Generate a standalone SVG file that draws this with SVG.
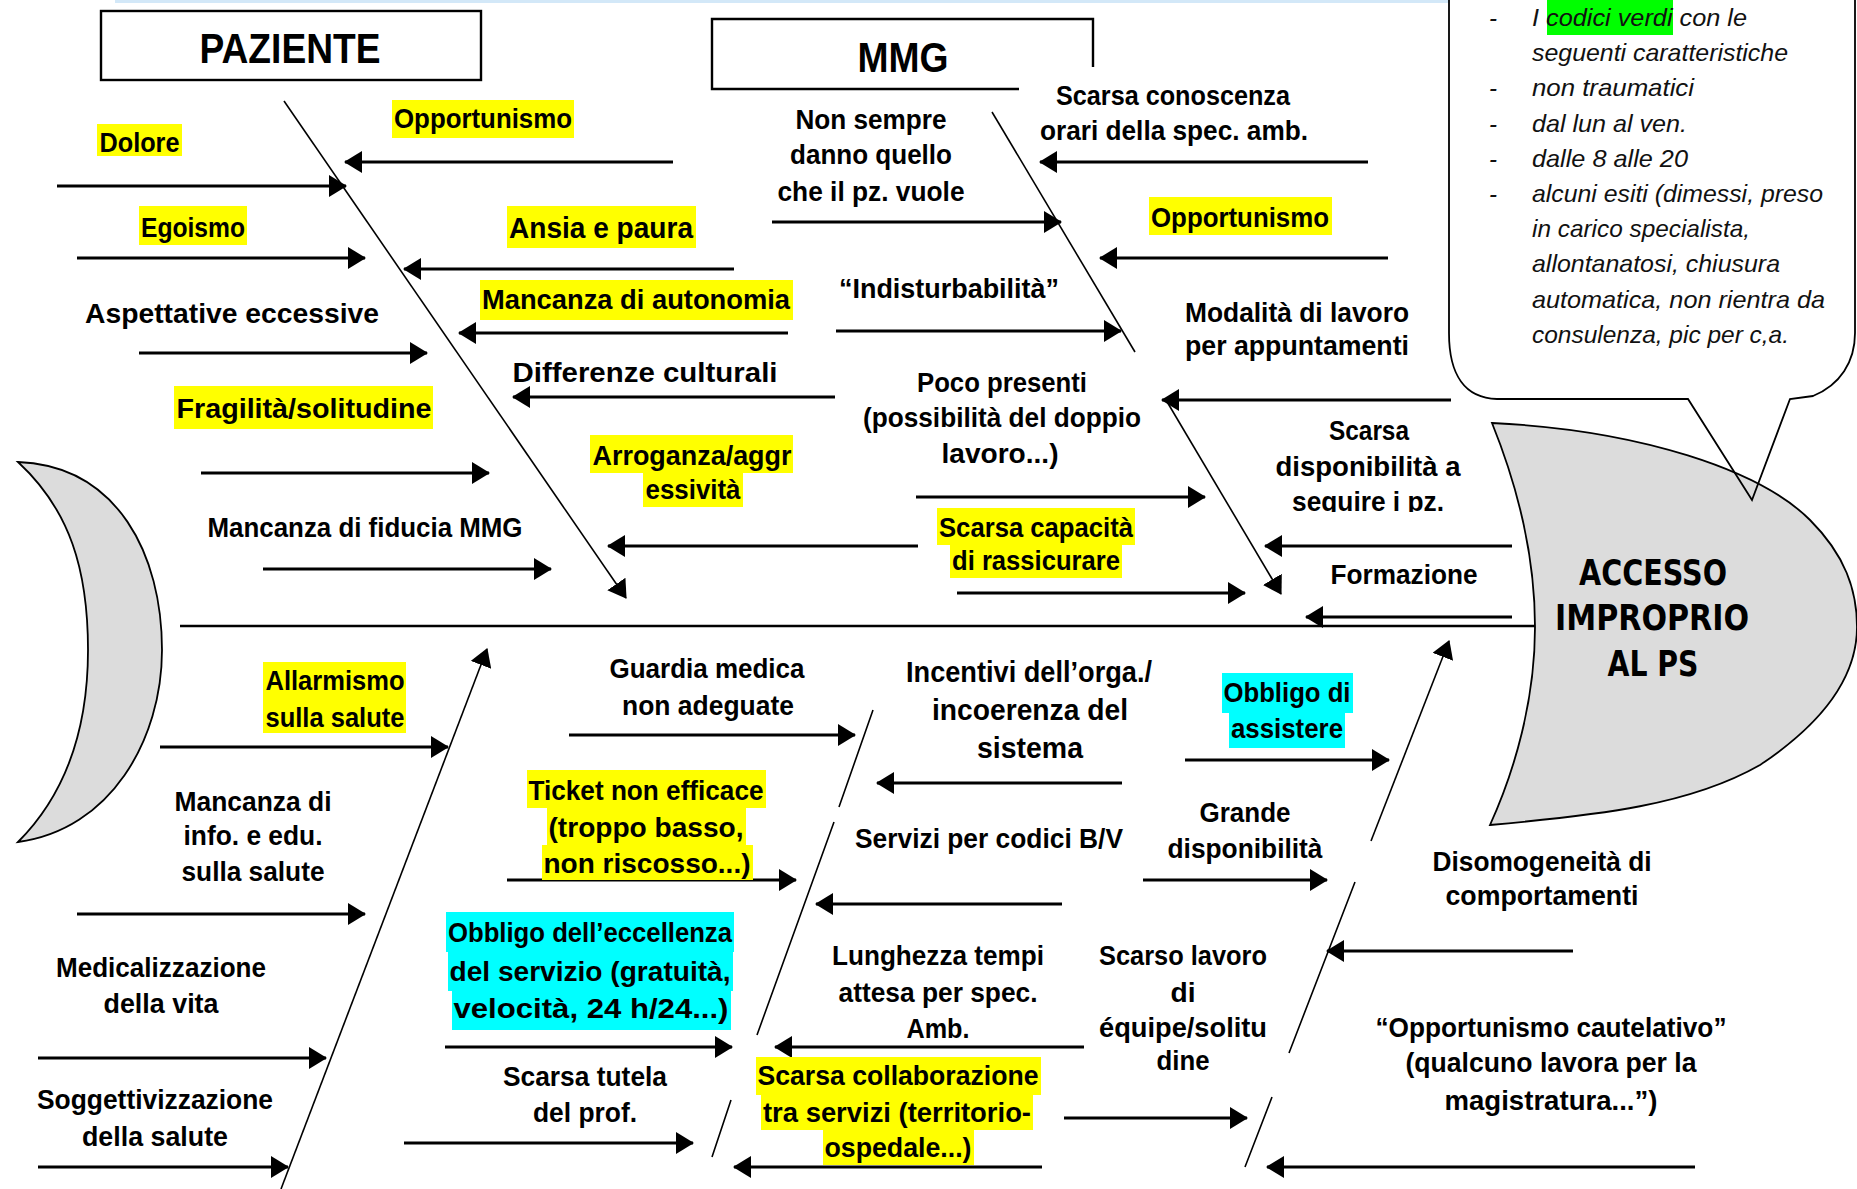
<svg xmlns="http://www.w3.org/2000/svg" width="1857" height="1189" viewBox="0 0 1857 1189">
<defs>
<style>
.t{font-family:"Liberation Sans",Arial,sans-serif;font-weight:bold;font-size:27px;text-anchor:middle;fill:#000}
.it{font-family:"Liberation Sans",Arial,sans-serif;font-style:italic;font-size:24px;fill:#111}
.ttl{font-family:"Liberation Sans",Arial,sans-serif;font-weight:bold;font-size:42px;text-anchor:middle}
.hd{font-family:"DejaVu Sans","Liberation Sans",sans-serif;font-weight:bold;font-size:35px;text-anchor:middle}
.ar{stroke:#000;stroke-width:2.8;fill:none;marker-end:url(#ah)}
.bone{stroke:#000;stroke-width:1.6;fill:none}
.hy{fill:#ffff00}.hc{fill:#00ffff}.hg{fill:#00ff00}
.shape{fill:#dcdcdc;stroke:#000;stroke-width:1.8}
.box{fill:none;stroke:#000;stroke-width:2.4}
</style>
<marker id="ah" markerUnits="userSpaceOnUse" markerWidth="18" markerHeight="22" refX="17" refY="11" orient="auto"><path d="M0,0 L18,11 L0,22 Z" fill="#000"/></marker>
<clipPath id="clipSeg"><rect x="1250" y="480" width="250" height="32"/></clipPath>
</defs>
<rect x="0" y="0" width="1857" height="1189" fill="#fff"/>
<rect x="115" y="0" width="1334" height="3" fill="#d3e8f8"/>

<g id="tail"><path class="shape" d="M18,462 C118,466 162,555 162,650 C162,740 110,830 18,842 C70,790 88,720 88,650 C88,570 70,510 18,462 Z"/></g>
<g id="head">
<path class="shape" d="M1492,423 C1640,430 1760,470 1810,520 C1845,555 1857,590 1857,627 C1857,680 1820,725 1760,765 C1690,805 1600,815 1490,825 C1515,770 1535,700 1535,627 C1535,550 1515,480 1492,423 Z"/>
<text class="hd" x="1653" y="585" textLength="148" lengthAdjust="spacingAndGlyphs">ACCESSO</text>
<text class="hd" x="1652" y="630" textLength="194" lengthAdjust="spacingAndGlyphs">IMPROPRIO</text>
<text class="hd" x="1653" y="676" textLength="91" lengthAdjust="spacingAndGlyphs">AL PS</text>
</g>
<g id="callout">
<path d="M1449,-5 L1449,333 C1449,375 1465,398 1497,399 L1688,399 L1752,500 L1790,399 L1813,396 C1840,385 1855,362 1855,333 L1855,-5" fill="none" stroke="#000" stroke-width="1.8"/>
<rect class="hg" x="1547" y="0" width="126" height="35"/>
<text class="it" x="1489" y="26">-</text>
<text class="it" x="1532" y="26" textLength="215" lengthAdjust="spacingAndGlyphs">I codici verdi con le</text>
<text class="it" x="1532" y="61" textLength="256" lengthAdjust="spacingAndGlyphs">seguenti caratteristiche</text>
<text class="it" x="1489" y="96">-</text>
<text class="it" x="1532" y="96" textLength="162" lengthAdjust="spacingAndGlyphs">non traumatici</text>
<text class="it" x="1489" y="132">-</text>
<text class="it" x="1532" y="132" textLength="155" lengthAdjust="spacingAndGlyphs">dal lun al ven.</text>
<text class="it" x="1489" y="167">-</text>
<text class="it" x="1532" y="167" textLength="156" lengthAdjust="spacingAndGlyphs">dalle 8 alle 20</text>
<text class="it" x="1489" y="202">-</text>
<text class="it" x="1532" y="202" textLength="291" lengthAdjust="spacingAndGlyphs">alcuni esiti (dimessi, preso</text>
<text class="it" x="1532" y="237" textLength="218" lengthAdjust="spacingAndGlyphs">in carico specialista,</text>
<text class="it" x="1532" y="272" textLength="248" lengthAdjust="spacingAndGlyphs">allontanatosi, chiusura</text>
<text class="it" x="1532" y="308" textLength="293" lengthAdjust="spacingAndGlyphs">automatica, non rientra da</text>
<text class="it" x="1532" y="343" textLength="257" lengthAdjust="spacingAndGlyphs">consulenza, pic per c,a.</text>
</g>

<g id="paziente">
<rect class="box" x="101" y="11" width="380" height="69"/>
<text class="ttl" x="290" y="63" textLength="181" lengthAdjust="spacingAndGlyphs">PAZIENTE</text>
</g>
<g id="mmg">
<path class="box" d="M1019,89 L712,89 L712,19 L1093,19 L1093,67"/>
<text class="ttl" x="903" y="72" textLength="91" lengthAdjust="spacingAndGlyphs">MMG</text>
</g>

<g id="connectors">
<line x1="180" y1="626" x2="1535" y2="626" stroke="#000" stroke-width="2.6"/>
<line class="bone" x1="284" y1="101" x2="626" y2="598" marker-end="url(#ah)"/>
<line class="bone" x1="992" y1="112" x2="1135" y2="352"/>
<line class="bone" x1="1166" y1="400" x2="1281" y2="594" marker-end="url(#ah)"/>
<line class="bone" x1="281" y1="1189" x2="487" y2="649" marker-end="url(#ah)"/>
<path class="bone" d="M873,710 L839,807 M834,822 L757,1035 M731,1100 L712,1157"/>
<path class="bone" d="M1245,1167 L1272,1097 M1289,1053 L1355,882"/>
<line class="bone" x1="1371" y1="841" x2="1449" y2="641" marker-end="url(#ah)"/>

<line class="ar" x1="57" y1="186" x2="346" y2="186"/>
<line class="ar" x1="77" y1="258" x2="365" y2="258"/>
<line class="ar" x1="139" y1="353" x2="427" y2="353"/>
<line class="ar" x1="201" y1="473" x2="489" y2="473"/>
<line class="ar" x1="263" y1="569" x2="551" y2="569"/>
<line class="ar" x1="673" y1="162" x2="345" y2="162"/>
<line class="ar" x1="734" y1="269" x2="404" y2="269"/>
<line class="ar" x1="788" y1="333" x2="459" y2="333"/>
<line class="ar" x1="835" y1="397" x2="513" y2="397"/>
<line class="ar" x1="918" y1="546" x2="608" y2="546"/>

<line class="ar" x1="772" y1="222" x2="1061" y2="222"/>
<line class="ar" x1="836" y1="331" x2="1121" y2="331"/>
<line class="ar" x1="916" y1="497" x2="1205" y2="497"/>
<line class="ar" x1="957" y1="593" x2="1245" y2="593"/>
<line class="ar" x1="1368" y1="162" x2="1040" y2="162"/>
<line class="ar" x1="1388" y1="258" x2="1100" y2="258"/>
<line class="ar" x1="1451" y1="400" x2="1162" y2="400"/>
<line class="ar" x1="1512" y1="546" x2="1265" y2="546"/>
<line class="ar" x1="1512" y1="617" x2="1306" y2="617"/>

<line class="ar" x1="160" y1="747" x2="448" y2="747"/>
<line class="ar" x1="77" y1="914" x2="365" y2="914"/>
<line class="ar" x1="38" y1="1058" x2="326" y2="1058"/>
<line class="ar" x1="38" y1="1167" x2="288" y2="1167"/>
<line class="ar" x1="569" y1="735" x2="855" y2="735"/>
<line class="ar" x1="507" y1="880" x2="796" y2="880"/>
<line class="ar" x1="445" y1="1047" x2="732" y2="1047"/>
<line class="ar" x1="404" y1="1143" x2="693" y2="1143"/>
<line class="ar" x1="1122" y1="783" x2="877" y2="783"/>
<line class="ar" x1="1062" y1="904" x2="816" y2="904"/>
<line class="ar" x1="1084" y1="1047" x2="775" y2="1047"/>
<line class="ar" x1="1042" y1="1167" x2="734" y2="1167"/>
<line class="ar" x1="1185" y1="760" x2="1389" y2="760"/>
<line class="ar" x1="1143" y1="880" x2="1327" y2="880"/>
<line class="ar" x1="1064" y1="1118" x2="1247" y2="1118"/>
<line class="ar" x1="1573" y1="951" x2="1327" y2="951"/>
<line class="ar" x1="1695" y1="1167" x2="1267" y2="1167"/>
</g>

<g id="n-opportunismo1"><rect class="hy" x="392" y="100" width="182" height="38"/><text class="t" x="483" y="128" textLength="178" lengthAdjust="spacingAndGlyphs">Opportunismo</text></g>
<g id="n-dolore"><rect class="hy" x="97" y="124" width="85" height="32"/><text class="t" x="139.5" y="152" textLength="80" lengthAdjust="spacingAndGlyphs">Dolore</text></g>
<g id="n-egoismo"><rect class="hy" x="139" y="206" width="108" height="39"/><text class="t" x="193" y="237" textLength="104" lengthAdjust="spacingAndGlyphs">Egoismo</text></g>
<g id="n-ansia"><rect class="hy" x="507" y="206" width="189" height="42"/><text class="t" x="601" y="238" style="font-size:30px" textLength="184" lengthAdjust="spacingAndGlyphs">Ansia e paura</text></g>
<g id="n-autonomia"><rect class="hy" x="480" y="280" width="313" height="40"/><text class="t" x="636" y="309" textLength="308" lengthAdjust="spacingAndGlyphs">Mancanza di autonomia</text></g>
<g id="n-aspettative"><text class="t" x="232" y="323" textLength="294" lengthAdjust="spacingAndGlyphs">Aspettative eccessive</text></g>
<g id="n-differenze"><text class="t" x="645" y="382" textLength="265" lengthAdjust="spacingAndGlyphs">Differenze culturali</text></g>
<g id="n-fragilita"><rect class="hy" x="174" y="386" width="259" height="43"/><text class="t" x="304" y="418" textLength="255" lengthAdjust="spacingAndGlyphs">Fragilità/solitudine</text></g>
<g id="n-arroganza"><rect class="hy" x="590" y="435" width="203" height="38"/><rect class="hy" x="643" y="473" width="100" height="34"/>
<text class="t" x="692" y="465" textLength="199" lengthAdjust="spacingAndGlyphs">Arroganza/aggr</text><text class="t" x="693" y="499" textLength="95" lengthAdjust="spacingAndGlyphs">essività</text></g>
<g id="n-fiducia"><text class="t" x="365" y="537" textLength="315" lengthAdjust="spacingAndGlyphs">Mancanza di fiducia MMG</text></g>

<g id="n-nonsempre"><text class="t" x="871" y="129" textLength="151" lengthAdjust="spacingAndGlyphs">Non sempre</text><text class="t" x="871" y="164" textLength="162" lengthAdjust="spacingAndGlyphs">danno quello</text><text class="t" x="871" y="201" textLength="187" lengthAdjust="spacingAndGlyphs">che il pz. vuole</text></g>
<g id="n-conoscenza"><text class="t" x="1173" y="105" textLength="234" lengthAdjust="spacingAndGlyphs">Scarsa conoscenza</text><text class="t" x="1174" y="140" textLength="268" lengthAdjust="spacingAndGlyphs">orari della spec. amb.</text></g>
<g id="n-indisturbabilita"><text class="t" x="949" y="298" textLength="220" lengthAdjust="spacingAndGlyphs">“Indisturbabilità”</text></g>
<g id="n-opportunismo2"><rect class="hy" x="1149" y="197" width="183" height="38"/><text class="t" x="1240" y="227" textLength="178" lengthAdjust="spacingAndGlyphs">Opportunismo</text></g>
<g id="n-modalita"><text class="t" x="1297" y="322" textLength="224" lengthAdjust="spacingAndGlyphs">Modalità di lavoro</text><text class="t" x="1297" y="355" textLength="224" lengthAdjust="spacingAndGlyphs">per appuntamenti</text></g>
<g id="n-poco"><text class="t" x="1002" y="392" textLength="170" lengthAdjust="spacingAndGlyphs">Poco presenti</text><text class="t" x="1002" y="427" textLength="278" lengthAdjust="spacingAndGlyphs">(possibilità del doppio</text><text class="t" x="1000" y="463" textLength="117" lengthAdjust="spacingAndGlyphs">lavoro...)</text></g>
<g id="n-rassicurare"><rect class="hy" x="937" y="508" width="198" height="37"/><rect class="hy" x="950" y="545" width="172" height="33"/>
<text class="t" x="1036" y="537" textLength="194" lengthAdjust="spacingAndGlyphs">Scarsa capacità</text><text class="t" x="1036" y="570" textLength="168" lengthAdjust="spacingAndGlyphs">di rassicurare</text></g>
<g id="n-disponibilita"><text class="t" x="1369" y="440" textLength="80" lengthAdjust="spacingAndGlyphs">Scarsa</text><text class="t" x="1368" y="476" textLength="185" lengthAdjust="spacingAndGlyphs">disponibilità  a</text><text class="t" x="1368" y="511" clip-path="url(#clipSeg)" textLength="152" lengthAdjust="spacingAndGlyphs">seguire i pz.</text></g>
<g id="n-formazione"><text class="t" x="1404" y="584" textLength="147" lengthAdjust="spacingAndGlyphs">Formazione</text></g>

<g id="n-allarmismo"><rect class="hy" x="263" y="662" width="143" height="36"/><rect class="hy" x="263" y="698" width="143" height="35"/>
<text class="t" x="335" y="690" textLength="139" lengthAdjust="spacingAndGlyphs">Allarmismo</text><text class="t" x="335" y="727" textLength="139" lengthAdjust="spacingAndGlyphs">sulla salute</text></g>
<g id="n-info"><text class="t" x="253" y="811" textLength="157" lengthAdjust="spacingAndGlyphs">Mancanza di</text><text class="t" x="253" y="845" textLength="139" lengthAdjust="spacingAndGlyphs">info. e edu.</text><text class="t" x="253" y="881" textLength="143" lengthAdjust="spacingAndGlyphs">sulla salute</text></g>
<g id="n-medicalizzazione"><text class="t" x="161" y="977" textLength="210" lengthAdjust="spacingAndGlyphs">Medicalizzazione</text><text class="t" x="161" y="1013" textLength="115" lengthAdjust="spacingAndGlyphs">della vita</text></g>
<g id="n-soggettivizzazione"><text class="t" x="155" y="1109" textLength="236" lengthAdjust="spacingAndGlyphs">Soggettivizzazione</text><text class="t" x="155" y="1146" textLength="146" lengthAdjust="spacingAndGlyphs">della salute</text></g>

<g id="n-guardia"><text class="t" x="707" y="678" textLength="195" lengthAdjust="spacingAndGlyphs">Guardia medica</text><text class="t" x="708" y="715" textLength="172" lengthAdjust="spacingAndGlyphs">non adeguate</text></g>
<g id="n-ticket"><rect class="hy" x="527" y="770" width="239" height="38"/><rect class="hy" x="547" y="808" width="199" height="37"/><rect class="hy" x="542" y="845" width="211" height="35"/>
<text class="t" x="646" y="800" textLength="235" lengthAdjust="spacingAndGlyphs">Ticket non efficace</text><text class="t" x="646" y="837" textLength="195" lengthAdjust="spacingAndGlyphs">(troppo basso,</text><text class="t" x="647" y="873" textLength="207" lengthAdjust="spacingAndGlyphs">non riscosso...)</text></g>
<g id="n-eccellenza"><rect class="hc" x="446" y="912" width="288" height="40"/><rect class="hc" x="448" y="952" width="285" height="39"/><rect class="hc" x="452" y="991" width="279" height="39"/>
<text class="t" x="590" y="942" textLength="284" lengthAdjust="spacingAndGlyphs">Obbligo dell’eccellenza</text><text class="t" x="590" y="981" textLength="281" lengthAdjust="spacingAndGlyphs">del servizio (gratuità,</text><text class="t" x="591" y="1018" textLength="275" lengthAdjust="spacingAndGlyphs">velocità, 24 h/24...)</text></g>
<g id="n-tutela"><text class="t" x="585" y="1086" textLength="164" lengthAdjust="spacingAndGlyphs">Scarsa tutela</text><text class="t" x="585" y="1122" textLength="104" lengthAdjust="spacingAndGlyphs">del prof.</text></g>

<g id="n-incentivi"><text class="t" x="1029" y="682" style="font-size:29px" textLength="246" lengthAdjust="spacingAndGlyphs">Incentivi dell’orga./</text><text class="t" x="1030" y="720" style="font-size:29px" textLength="196" lengthAdjust="spacingAndGlyphs">incoerenza del</text><text class="t" x="1030" y="758" style="font-size:29px" textLength="106" lengthAdjust="spacingAndGlyphs">sistema</text></g>
<g id="n-servizi"><text class="t" x="989" y="848" textLength="268" lengthAdjust="spacingAndGlyphs">Servizi per codici B/V</text></g>
<g id="n-lunghezza"><text class="t" x="938" y="965" textLength="212" lengthAdjust="spacingAndGlyphs">Lunghezza tempi</text><text class="t" x="938" y="1002" textLength="199" lengthAdjust="spacingAndGlyphs">attesa per spec.</text><text class="t" x="938" y="1038" textLength="63" lengthAdjust="spacingAndGlyphs">Amb.</text></g>
<g id="n-collaborazione"><rect class="hy" x="756" y="1057" width="285" height="38"/><rect class="hy" x="761" y="1095" width="272" height="35"/><rect class="hy" x="823" y="1130" width="151" height="35"/>
<text class="t" x="898" y="1085" textLength="281" lengthAdjust="spacingAndGlyphs">Scarsa  collaborazione</text><text class="t" x="897" y="1122" textLength="268" lengthAdjust="spacingAndGlyphs">tra servizi (territorio-</text><text class="t" x="898" y="1157" textLength="147" lengthAdjust="spacingAndGlyphs">ospedale...)</text></g>

<g id="n-assistere"><rect class="hc" x="1222" y="673" width="131" height="40"/><rect class="hc" x="1229" y="713" width="116" height="35"/>
<text class="t" x="1287" y="702" textLength="127" lengthAdjust="spacingAndGlyphs">Obbligo di</text><text class="t" x="1287" y="738" textLength="112" lengthAdjust="spacingAndGlyphs">assistere</text></g>
<g id="n-grande"><text class="t" x="1245" y="822" textLength="91" lengthAdjust="spacingAndGlyphs">Grande</text><text class="t" x="1245" y="858" textLength="155" lengthAdjust="spacingAndGlyphs">disponibilità</text></g>
<g id="n-equipe"><text class="t" x="1183" y="965" textLength="168" lengthAdjust="spacingAndGlyphs">Scarso lavoro</text><text class="t" x="1183" y="1002" textLength="25" lengthAdjust="spacingAndGlyphs">di</text><text class="t" x="1183" y="1037" textLength="168" lengthAdjust="spacingAndGlyphs">équipe/solitu</text><text class="t" x="1183" y="1070" textLength="53" lengthAdjust="spacingAndGlyphs">dine</text></g>
<g id="n-disomogeneita"><text class="t" x="1542" y="871" textLength="219" lengthAdjust="spacingAndGlyphs">Disomogeneità di</text><text class="t" x="1542" y="905" textLength="193" lengthAdjust="spacingAndGlyphs">comportamenti</text></g>
<g id="n-cautelativo"><text class="t" x="1551" y="1037" textLength="351" lengthAdjust="spacingAndGlyphs">“Opportunismo cautelativo”</text><text class="t" x="1551" y="1072" textLength="291" lengthAdjust="spacingAndGlyphs">(qualcuno lavora per la</text><text class="t" x="1551" y="1110" textLength="213" lengthAdjust="spacingAndGlyphs">magistratura...”)</text></g>
</svg>
